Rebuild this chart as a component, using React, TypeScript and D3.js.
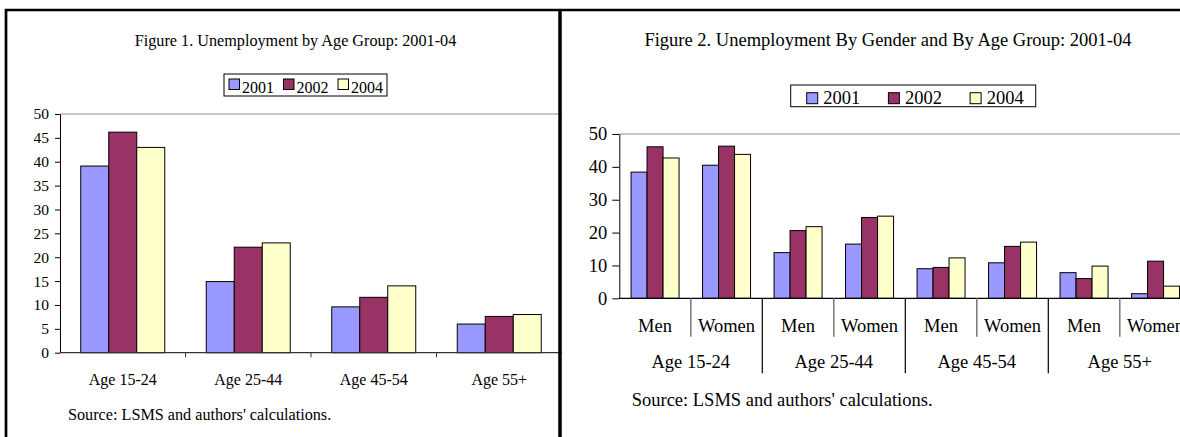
import React, { useRef, useEffect } from "react";
import * as d3 from "d3";

// Figure 1 data
const years = ["2001", "2002", "2004"];
const ageGroups = ["Age 15-24", "Age 25-44", "Age 45-54", "Age 55+"];
const fig1_2001 = [39.1, 14.9, 9.6, 6.0];
const fig1_2002 = [46.2, 22.1, 11.6, 7.6];
const fig1_2004 = [43.0, 23.0, 14.0, 8.0];
const fig1Ticks = [0, 5, 10, 15, 20, 25, 30, 35, 40, 45, 50];

// Figure 2 data (Men / Women inside each age group)
const genders = ["Men", "Women"];
const fig2_2001 = [38.4, 40.5, 13.9, 16.5, 9.0, 10.8, 7.8, 1.4];
const fig2_2002 = [46.1, 46.3, 20.6, 24.6, 9.4, 15.8, 6.0, 11.3];
const fig2_2004 = [42.7, 43.8, 21.8, 25.0, 12.3, 17.1, 9.8, 3.7];
const fig2Ticks = [0, 10, 20, 30, 40, 50];

const colors = ["#9999FF", "#993366", "#FFFFCC"];
const FONT = "'Liberation Serif', 'Times New Roman', serif";

const App: React.FC = () => {
  const svgRef = useRef<SVGSVGElement | null>(null);

  useEffect(() => {
    const svg = d3.select(svgRef.current);
    svg.selectAll("*").remove();
    svg.attr("font-family", FONT);

    // ---------- Figure 1 ----------
    {
      const s1 = [fig1_2001, fig1_2002, fig1_2004];
      const x0 = d3.scaleBand<string>().domain(ageGroups).range([60, 562]);
      const groupW = 84;
      const x1 = d3
        .scaleBand<string>()
        .domain(years)
        .range([(x0.bandwidth() - groupW) / 2, (x0.bandwidth() + groupW) / 2]);
      const y = d3.scaleLinear().domain([0, 50]).range([352.7, 114]);

      const g = svg.append("g");

      // plot area border (top)
      g.append("line")
        .attr("x1", x0.range()[0])
        .attr("x2", x0.range()[1])
        .attr("y1", y(50))
        .attr("y2", y(50))
        .attr("stroke", "#b4b4b4")
        .attr("stroke-width", 1.3);

      // bars
      ageGroups.forEach((a, i) => {
        years.forEach((yr, k) => {
          const v = s1[k][i];
          g.append("rect")
            .attr("x", x0(a)! + x1(yr)!)
            .attr("y", y(v))
            .attr("width", x1.bandwidth())
            .attr("height", y(0) - y(v))
            .attr("fill", colors[k])
            .attr("stroke", "#000")
            .attr("stroke-width", 1);
        });
      });

      // y axis
      const yAxis = d3
        .axisLeft(y)
        .tickValues(fig1Ticks)
        .tickSize(5)
        .tickSizeOuter(0)
        .tickPadding(6);
      const ya = g.append("g").attr("transform", "translate(60,0)").call(yAxis);
      ya.selectAll("text").attr("font-size", 15.5).attr("font-family", FONT).attr("fill", "#000");
      ya.select(".domain").attr("stroke", "#000");

      // x axis
      g.append("line")
        .attr("x1", x0.range()[0])
        .attr("x2", x0.range()[1])
        .attr("y1", y(0))
        .attr("y2", y(0))
        .attr("stroke", "#333")
        .attr("stroke-width", 1.2);
      ageGroups.forEach((a, i) => {
        if (i > 0) {
          g.append("line")
            .attr("x1", x0(a)!)
            .attr("x2", x0(a)!)
            .attr("y1", y(0))
            .attr("y2", y(0) + 4.5)
            .attr("stroke", "#333");
        }
        g.append("text")
          .attr("x", x0(a)! + x0.bandwidth() / 2)
          .attr("y", 385)
          .attr("text-anchor", "middle")
          .attr("font-size", 16)
          .text(a);
      });

      // title
      g.append("text")
        .attr("x", 295.5)
        .attr("y", 46)
        .attr("text-anchor", "middle")
        .attr("font-size", 16.2)
        .text("Figure 1. Unemployment by Age Group: 2001-04");

      // legend
      const lg = g.append("g");
      lg.append("rect")
        .attr("x", 224)
        .attr("y", 74)
        .attr("width", 163)
        .attr("height", 22)
        .attr("fill", "#fff")
        .attr("stroke", "#000");
      years.forEach((yr, k) => {
        const lx = 229 + k * 54.5;
        lg.append("rect")
          .attr("x", lx)
          .attr("y", 79)
          .attr("width", 10.5)
          .attr("height", 10.5)
          .attr("fill", colors[k])
          .attr("stroke", "#000");
        lg.append("text")
          .attr("x", lx + 13)
          .attr("y", 93)
          .attr("font-size", 16)
          .text(yr);
      });

      // source
      g.append("text")
        .attr("x", 68)
        .attr("y", 420)
        .attr("font-size", 16.2)
        .text("Source: LSMS and authors' calculations.");
    }

    // ---------- Figure 2 ----------
    {
      const s2 = [fig2_2001, fig2_2002, fig2_2004];
      const keys = ageGroups.flatMap((a) => genders.map((gd) => `${a}|${gd}`));
      const x0 = d3.scaleBand<string>().domain(keys).range([619.3, 619.3 + 8 * 71.5]);
      const groupW = 48;
      const x1 = d3
        .scaleBand<string>()
        .domain(years)
        .range([(x0.bandwidth() - groupW) / 2, (x0.bandwidth() + groupW) / 2]);
      const y = d3.scaleLinear().domain([0, 50]).range([298.3, 134]);

      const g = svg.append("g");

      g.append("line")
        .attr("x1", x0.range()[0])
        .attr("x2", 1180)
        .attr("y1", y(50))
        .attr("y2", y(50))
        .attr("stroke", "#b4b4b4")
        .attr("stroke-width", 1.3);

      keys.forEach((key, i) => {
        years.forEach((yr, k) => {
          const v = s2[k][i];
          g.append("rect")
            .attr("x", x0(key)! + x1(yr)!)
            .attr("y", y(v))
            .attr("width", x1.bandwidth())
            .attr("height", y(0) - y(v))
            .attr("fill", colors[k])
            .attr("stroke", "#000")
            .attr("stroke-width", 1);
        });
      });

      const yAxis = d3
        .axisLeft(y)
        .tickValues(fig2Ticks)
        .tickSize(7)
        .tickSizeOuter(0)
        .tickPadding(5);
      const ya = g
        .append("g")
        .attr("transform", `translate(${x0.range()[0]},0)`)
        .call(yAxis);
      ya.selectAll("text").attr("font-size", 18.5).attr("font-family", FONT).attr("fill", "#000");
      ya.select(".domain").attr("stroke", "#000");

      // x axis with two-level categories
      g.append("line")
        .attr("x1", x0.range()[0])
        .attr("x2", 1180)
        .attr("y1", y(0))
        .attr("y2", y(0))
        .attr("stroke", "#000")
        .attr("stroke-width", 1.2);
      keys.forEach((key, i) => {
        const bx = x0(key)!;
        if (i > 0) {
          const major = i % 2 === 0;
          g.append("line")
            .attr("x1", bx)
            .attr("x2", bx)
            .attr("y1", y(0))
            .attr("y2", major ? 373.3 : 336.7)
            .attr("stroke", major ? "#000" : "#777")
            .attr("stroke-width", major ? 1.2 : 1.5);
        }
        g.append("text")
          .attr("x", bx + x0.bandwidth() / 2)
          .attr("y", 331.7)
          .attr("text-anchor", "middle")
          .attr("font-size", 18.5)
          .text(key.split("|")[1]);
      });
      ageGroups.forEach((a) => {
        const gx = x0(`${a}|${genders[0]}`)!;
        g.append("text")
          .attr("x", gx + x0.bandwidth())
          .attr("y", 368.3)
          .attr("text-anchor", "middle")
          .attr("font-size", 18.5)
          .text(a);
      });

      g.append("text")
        .attr("x", 888)
        .attr("y", 45.7)
        .attr("text-anchor", "middle")
        .attr("font-size", 18.5)
        .text("Figure 2. Unemployment By Gender and By Age Group: 2001-04");

      const lg = g.append("g");
      lg.append("rect")
        .attr("x", 790.7)
        .attr("y", 85)
        .attr("width", 245)
        .attr("height", 21.7)
        .attr("fill", "#fff")
        .attr("stroke", "#000");
      years.forEach((yr, k) => {
        const lx = 806.7 + k * 81.7;
        lg.append("rect")
          .attr("x", lx)
          .attr("y", 92.7)
          .attr("width", 11)
          .attr("height", 11)
          .attr("fill", colors[k])
          .attr("stroke", "#000");
        lg.append("text")
          .attr("x", lx + 16.6)
          .attr("y", 104)
          .attr("font-size", 18.5)
          .text(yr);
      });

      g.append("text")
        .attr("x", 631.7)
        .attr("y", 406)
        .attr("font-size", 18.5)
        .text("Source: LSMS and authors' calculations.");
    }

    // ---------- panel frames ----------
    svg.append("line").attr("x1", 5).attr("x2", 1180).attr("y1", 10).attr("y2", 10)
      .attr("stroke", "#000").attr("stroke-width", 2.7);
    svg.append("line").attr("x1", 6).attr("x2", 6).attr("y1", 9).attr("y2", 437)
      .attr("stroke", "#000").attr("stroke-width", 2.7);
    svg.append("line").attr("x1", 560).attr("x2", 560).attr("y1", 9).attr("y2", 437)
      .attr("stroke", "#000").attr("stroke-width", 3.5);
  }, []);

  return (
    <svg
      ref={svgRef}
      width={1180}
      height={437}
      style={{ position: "absolute", left: 0, top: 0, background: "#fff" }}
    />
  );
};

export default App;
